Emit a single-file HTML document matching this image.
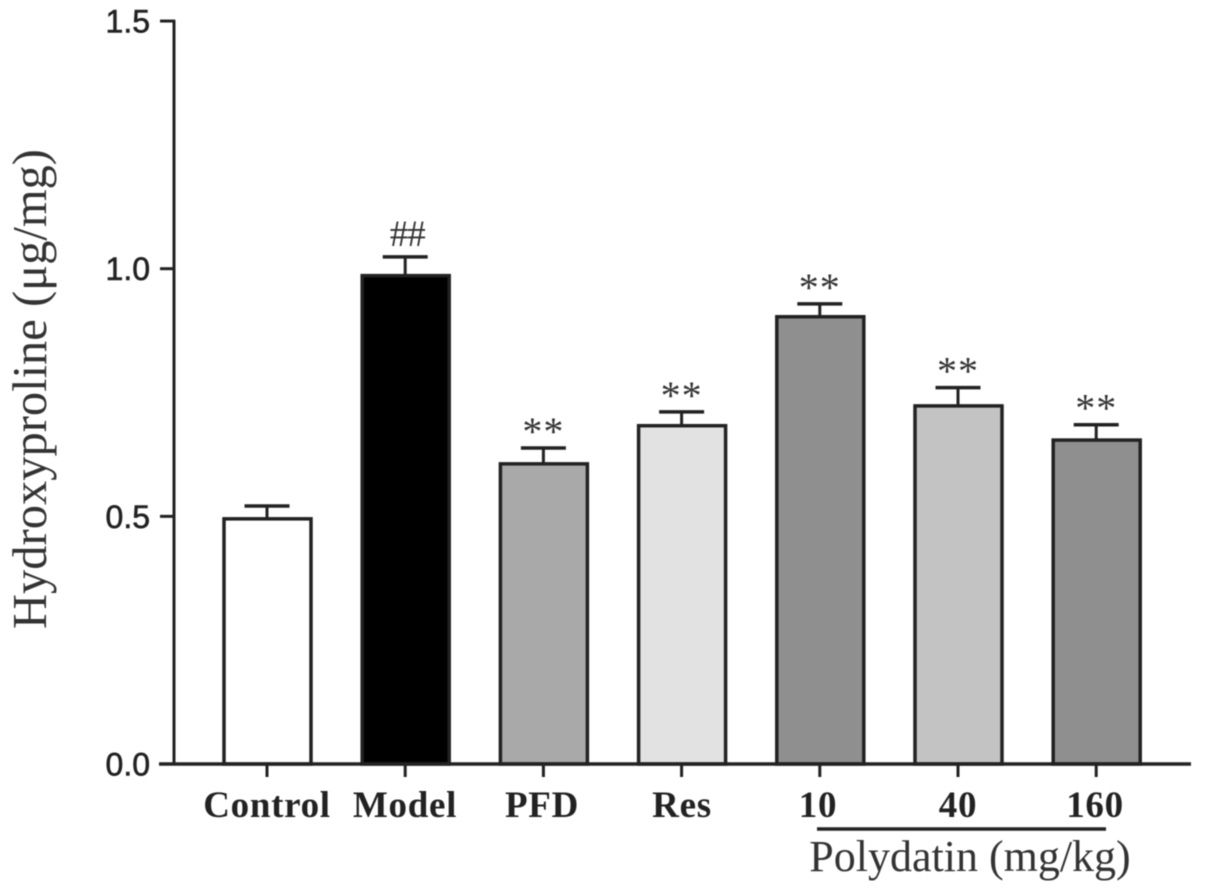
<!DOCTYPE html>
<html>
<head>
<meta charset="utf-8">
<style>
html,body{margin:0;padding:0;background:#fff;}
svg{display:block;filter:blur(0.6px);}
.tick{font-family:"Liberation Sans",sans-serif;font-size:32px;fill:#222;stroke:#222;stroke-width:0.6px;}
.cat{font-family:"Liberation Serif",serif;font-size:37px;font-weight:bold;fill:#222;letter-spacing:0.7px;}
.serif{font-family:"Liberation Serif",serif;fill:#333;}
</style>
</head>
<body>
<svg id="chart" width="1205" height="895" viewBox="0 0 1205 895" xmlns="http://www.w3.org/2000/svg"></svg>
<script>
var categories = ["Control","Model","PFD","Res","10","40","160"];
var values = [0.495,0.986,0.606,0.683,0.903,0.723,0.654];
var errors = [0.026,0.038,0.032,0.028,0.026,0.037,0.031];
var fills = ["#ffffff","#000000","#a9a9a9","#e2e2e2","#8f8f8f","#c3c3c3","#8f8f8f"];
var marks = ["","##","**","**","**","**","**"];
var yTicks = [0,0.5,1.0,1.5];

var svg = document.getElementById('chart');
var NS = 'http://www.w3.org/2000/svg';
var STROKE = '#222222';
function y(v){ return 764 - v * 495.3; }
function x(i){ return 267 + i * 138.2; }
function make(tag, attrs, name){
  var el = document.createElementNS(NS, tag);
  for (var k in attrs) el.setAttribute(k, attrs[k]);
  
  
  svg.appendChild(el);
  return el;
}
function line(x1,y1,x2,y2,w,name){
  return make('line',{x1:x1,y1:y1,x2:x2,y2:y2,stroke:STROKE,'stroke-width':w},name);
}

categories.forEach(function(c,i){
  var cx = x(i), top = y(values[i]), et = y(values[i] + errors[i]);
  line(cx, top, cx, et, 3, 'error-stem-' + c);
  line(cx - 22.5, et, cx + 22.5, et, 3.5, 'error-cap-' + c);
  make('rect',{x:cx-43,y:top,width:87,height:764-top,fill:fills[i],stroke:STROKE,'stroke-width':3.5},'bar-' + c);
  if (marks[i]) {
    var hash = marks[i]==='##';
    var t = make('text',{x:cx + (hash?2:0),y:et-(hash?11:-1)-(hash?0:4),'text-anchor':'middle','class':'serif','font-size':hash?37:40,'letter-spacing':hash?-1:1},'significance-' + c);
    t.textContent = marks[i];
  }
  line(cx, 764, cx, 777, 3, 'x-tick-' + c);
  var lx = [267,405,542,682,818,958,1095][i];
  var lbl = make('text',{x:lx,y:817,'text-anchor':'middle','class':'cat'},'x-label-' + c);
  lbl.textContent = c;
});

line(174, 20, 174, 765, 3, 'y-axis-line');
line(159, 764, 1191, 764, 3.5, 'x-axis-line');
yTicks.forEach(function(v){
  line(160, y(v), 175, y(v), 3, 'y-tick-' + v);
  var t = make('text',{x:150,y:y(v)+11.5,'text-anchor':'end','class':'tick'},'y-label-' + v);
  t.textContent = v.toFixed(1);
});

var yTitle = make('text',{transform:'translate(46,389) rotate(-90)','text-anchor':'middle','class':'serif','font-size':48.5},'y-axis-title');
yTitle.textContent = 'Hydroxyproline (μg/mg)';

line(817, 829, 1106, 829, 3.5, 'polydatin-bracket');
var pg = make('text',{x:970,y:871,'text-anchor':'middle','class':'serif','font-size':44},'polydatin-group-label');
pg.textContent = 'Polydatin (mg/kg)';
</script>
</body>
</html>
